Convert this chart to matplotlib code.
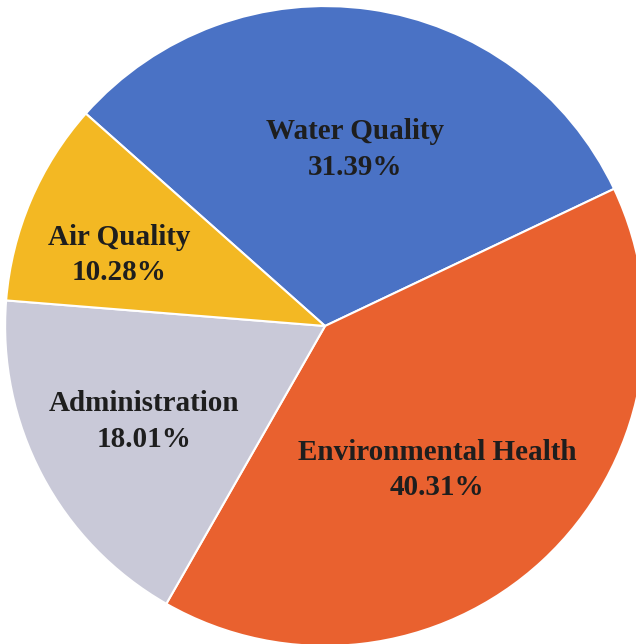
import matplotlib.pyplot as plt
import numpy as np

plt.rcParams['font.family'] = ['Liberation Serif', 'DejaVu Serif']

# data
categories = ['Water Quality', 'Environmental Health', 'Administration', 'Air Quality']
shares = [31.39, 40.31, 18.01, 10.28]
colors = ['#4A72C5', '#E9612F', '#C9C9D8', '#F3B823']

# label placement (radius fraction, angle nudge in degrees)
label_dist = [0.56, 0.57, 0.64, 0.68]
label_turn = [-1.5, -5, 0, 4]

fig = plt.figure(figsize=(6.36, 6.44), dpi=100)
ax = fig.add_axes([0, 0, 1, 1])

wedges, _ = ax.pie(shares, colors=colors, startangle=138.4, counterclock=False,
                   radius=1.0, center=(0, 0),
                   wedgeprops=dict(edgecolor='white', linewidth=1.5))

for w, name, val, d, t in zip(wedges, categories, shares, label_dist, label_turn):
    mid = np.deg2rad((w.theta1 + w.theta2) / 2 + t)
    x, y = d * np.cos(mid), d * np.sin(mid)
    ax.text(x, y, f"{name}\n{val:.2f}%", ha='center', va='center',
            fontsize=21, fontweight='bold', color='#1E1E1E', linespacing=1.4)

ax.set_xlim(-1.016, 0.972)
ax.set_ylim(-0.994, 1.019)
ax.set_aspect('auto')
ax.axis('off')

plt.savefig('out.png', dpi=100)
